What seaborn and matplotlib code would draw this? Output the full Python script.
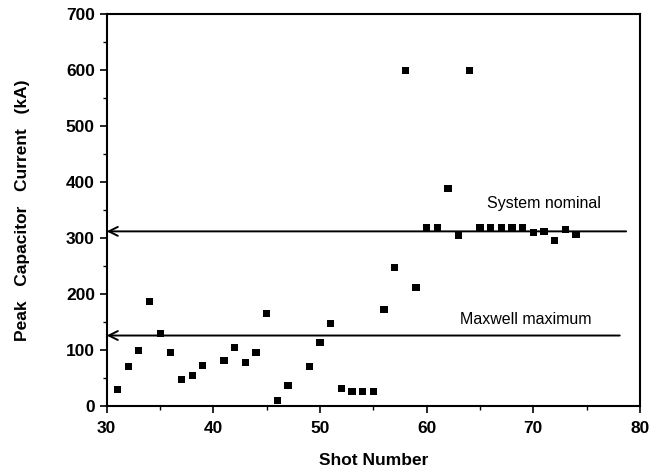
import matplotlib
matplotlib.use('Agg')
import matplotlib.pyplot as plt
import seaborn as sns
import pandas as pd
from matplotlib.ticker import MultipleLocator

# Shot data
shots = [31, 32, 33, 34, 35, 36, 37, 38, 39, 41, 42, 43, 44, 45, 46, 47,
         49, 50, 51, 52, 53, 54, 55, 56, 57, 58, 59, 60, 61, 62, 63, 64,
         65, 66, 67, 68, 69, 70, 71, 72, 73, 74]
current_ka = [30, 70, 100, 187, 130, 95, 48, 55, 72, 82, 105, 78, 96, 165, 10, 36,
              70, 113, 148, 31, 26, 26, 26, 173, 248, 600, 212, 318, 318, 388, 305, 600,
              318, 318, 318, 318, 318, 310, 312, 296, 316, 307]

# Reference levels
level_names = ['System nominal', 'Maxwell maximum']
level_values = [312, 126]
level_ends = [78.7, 78.1]

df = pd.DataFrame({'shot': shots, 'current': current_ka})

sns.set_style('ticks')
plt.rcParams['font.family'] = ['Liberation Sans', 'DejaVu Sans']
plt.rcParams['text.color'] = 'black'
plt.rcParams['axes.labelcolor'] = 'black'
plt.rcParams['xtick.color'] = 'black'
plt.rcParams['ytick.color'] = 'black'

fig = plt.figure(figsize=(6.67, 4.70), dpi=100)
ax = fig.add_axes([0.16, 0.136, 0.7995, 0.834])

sns.scatterplot(data=df, x='shot', y='current', marker='s', s=26,
                color='black', edgecolor='none', ax=ax)

# Horizontal reference lines with arrowheads pointing to the axis
for name, val, end in zip(level_names, level_values, level_ends):
    ax.annotate('', xy=(30, val), xytext=(end, val),
                arrowprops=dict(arrowstyle='->', lw=1.4, color='black',
                                shrinkA=0, shrinkB=0, mutation_scale=16))

ax.text(71.0, 362, 'System nominal', ha='center', va='center', fontsize=11.5)
ax.text(69.3, 155, 'Maxwell maximum', ha='center', va='center', fontsize=11.5)

ax.set_xlim(30, 80)
ax.set_ylim(0, 700)
ax.xaxis.set_major_locator(MultipleLocator(10))
ax.xaxis.set_minor_locator(MultipleLocator(5))
ax.yaxis.set_major_locator(MultipleLocator(100))
ax.yaxis.set_minor_locator(MultipleLocator(50))
ax.tick_params(which='major', direction='out', length=5, width=1.2)
ax.tick_params(which='minor', direction='out', length=3, width=1.0)
ax.tick_params(labelsize=12.5)
ax.tick_params(axis='x', which='major', pad=5.5)
for lbl in ax.get_xticklabels() + ax.get_yticklabels():
    lbl.set_fontweight('bold')

for sp in ax.spines.values():
    sp.set_visible(True)
    sp.set_linewidth(1.5)
    sp.set_color('black')

ax.set_xlabel('Shot Number', fontsize=12.5, fontweight='bold')
ax.set_ylabel('Peak   Capacitor   Current   (kA)', fontsize=12.5, fontweight='bold')
ax.xaxis.set_label_coords(0.5, -0.12)
ax.yaxis.set_label_coords(-0.143, 0.5)

fig.savefig('out.png', dpi=100)
